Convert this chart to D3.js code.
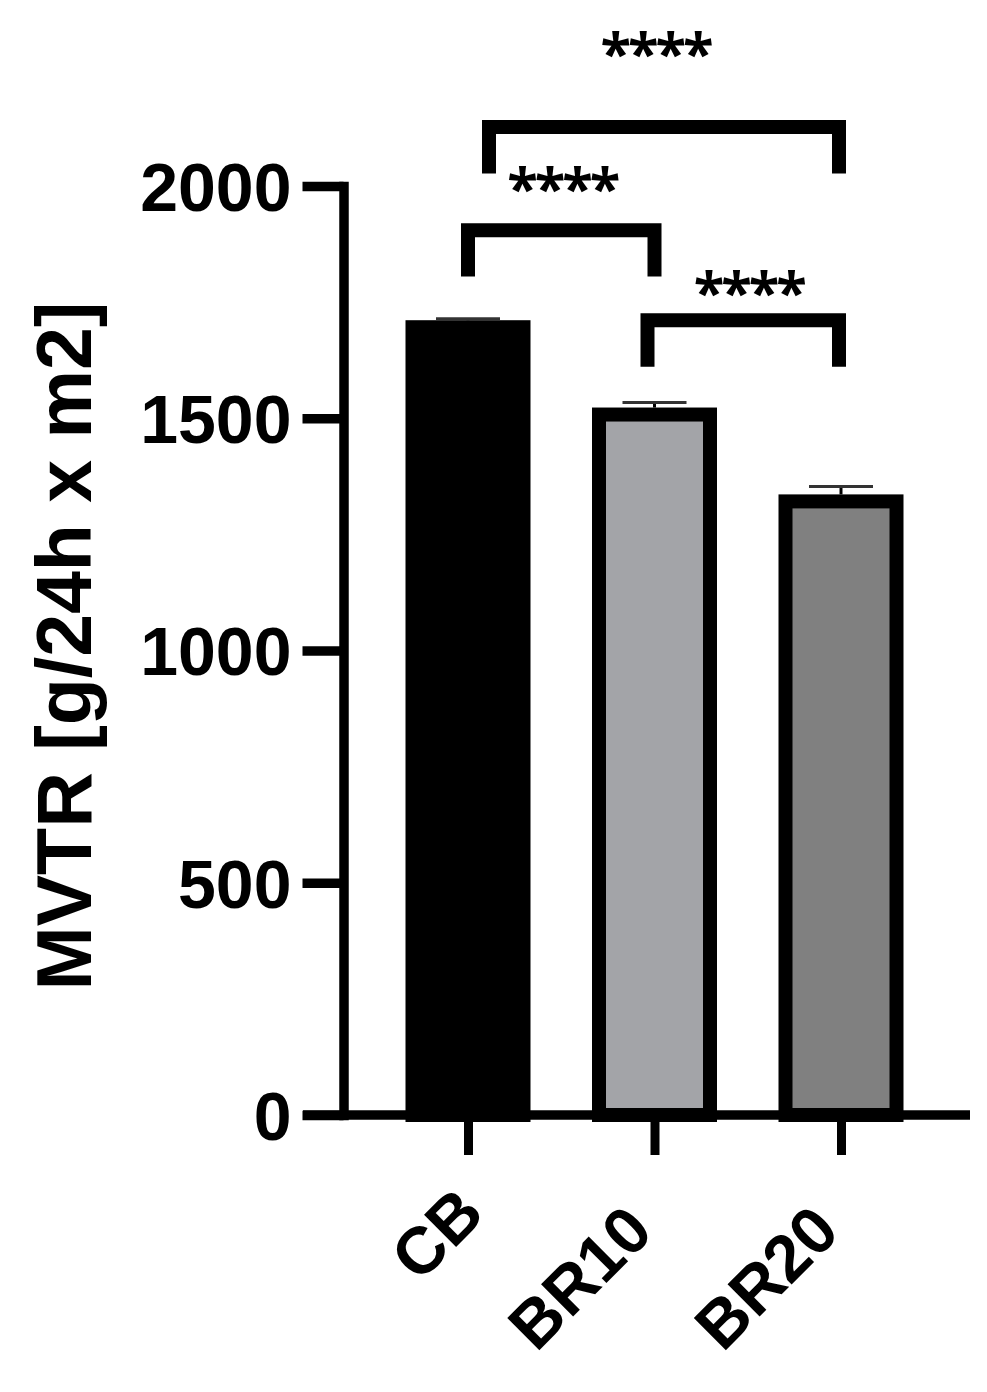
<!DOCTYPE html>
<html>
<head>
<meta charset="utf-8">
<script src="https://cdn.jsdelivr.net/npm/d3@7"></script>
<style>
  body { margin: 0; background: #fff; }
  svg { display: block; font-family: "Liberation Sans", Arial, sans-serif; }
</style>
</head>
<body>
<div id="container"></div>
<script>
// data
const categories = ['CB', 'BR10', 'BR20'];
const means = [1696, 1508, 1321];
const sds = [18, 26, 32];
const yTicks = [0, 500, 1000, 1500, 2000];

// significance brackets (level = y value of the bracket bar)
const compFrom = ['CB', 'CB', 'BR10'];
const compTo = ['BR20', 'BR10', 'BR20'];
const compLevel = [2127, 1905, 1711];
const compText = ['****', '****', '****'];
const compTextLevel = [2303, 2012, 1789];

// svg dimensions
const width = 987;
const height = 1392;
const lineW = 9.5;

const svg = d3.select('#container')
              .append('svg')
              .attr('width', width)
              .attr('height', height);

// scales
const yScale = d3.scaleLinear()
                 .domain([0, 2000])
                 .range([1115, 186]);

const xScale = d3.scalePoint()
                 .domain(categories)
                 .range([374.75, 934.25])
                 .padding(0.5);

const fill = d3.scaleOrdinal()
               .domain(categories)
               .range(['#000000', '#a3a4a8', '#808080']);

const barW = 111;
const barStroke = 14;

// bars
svg.selectAll('rect.bar')
   .data(categories)
   .enter()
   .append('rect')
   .attr('class', 'bar')
   .attr('x', d => xScale(d) - barW / 2)
   .attr('y', (d, i) => yScale(means[i]))
   .attr('width', barW)
   .attr('height', (d, i) => yScale(0) - yScale(means[i]))
   .attr('fill', d => fill(d))
   .attr('stroke', '#000')
   .attr('stroke-width', barStroke);

// error bars (upper only)
const err = svg.append('g');
categories.forEach((c, i) => {
    const cx = xScale(c);
    const top = yScale(means[i] + sds[i]);
    err.append('line')
       .attr('x1', cx).attr('x2', cx)
       .attr('y1', top).attr('y2', yScale(means[i]) - barStroke / 2)
       .attr('stroke', '#000').attr('stroke-width', 3);
    err.append('line')
       .attr('x1', cx - 32).attr('x2', cx + 32)
       .attr('y1', top).attr('y2', top)
       .attr('stroke', '#333').attr('stroke-width', 3);
});

// y axis
const yAxis = d3.axisLeft(yScale)
                .tickValues(yTicks)
                .tickFormat(d3.format('d'))
                .tickSize(41)
                .tickSizeOuter(0)
                .tickPadding(11);

const gy = svg.append('g')
              .attr('transform', 'translate(343.5,0)')
              .call(yAxis);

gy.select('.domain')
  .attr('stroke-width', lineW)
  .attr('stroke-linecap', 'square');
gy.selectAll('.tick line').attr('stroke-width', lineW);
gy.selectAll('.tick text')
  .attr('font-family', '"Liberation Sans", Arial, sans-serif')
  .attr('font-size', 68)
  .attr('font-weight', 'bold')
  .attr('fill', '#000')
  .attr('dy', '0.36em');

// x axis
const xAxis = d3.axisBottom(xScale)
                .tickSize(40)
                .tickSizeOuter(0)
                .tickFormat('');

const gx = svg.append('g')
              .attr('transform', `translate(0,${yScale(0)})`)
              .call(xAxis);

gx.select('.domain').remove();
gx.selectAll('.tick line').attr('stroke-width', 9);

gx.append('line')
  .attr('x1', 303).attr('x2', 970)
  .attr('y1', 0).attr('y2', 0)
  .attr('stroke', '#000')
  .attr('stroke-width', lineW);

// rotated category labels (short label sits a bit further along its baseline)
const labelNudge = [25, 0, 0];
svg.append('g')
   .selectAll('text')
   .data(categories)
   .enter()
   .append('text')
   .attr('transform', (d, i) => `translate(${xScale(d) + 1},1234) rotate(-45) translate(${labelNudge[i]},0)`)
   .attr('text-anchor', 'end')
   .attr('font-size', 66)
   .attr('font-weight', 'bold')
   .text(d => d);

// y axis title
svg.append('text')
   .attr('transform', 'translate(91,646) rotate(-90)')
   .attr('text-anchor', 'middle')
   .attr('font-size', 77)
   .attr('font-weight', 'bold')
   .text('MVTR [g/24h x m2]');

// significance brackets
const legShift = [[21, -2], [0, 0], [-7, -2]];
const legDrop = 100;
const brW = 14;

const br = svg.append('g');
compFrom.forEach((f, i) => {
    const x1 = xScale(f) + legShift[i][0];
    const x2 = xScale(compTo[i]) + legShift[i][1];
    const yb = yScale(compLevel[i]);
    const yl = yScale(compLevel[i] - legDrop);
    br.append('path')
      .attr('d', `M${x1},${yl}V${yb}H${x2}V${yl}`)
      .attr('fill', 'none')
      .attr('stroke', '#000')
      .attr('stroke-width', brW)
      .attr('stroke-linejoin', 'miter');
    br.append('text')
      .attr('x', (xScale(f) + xScale(compTo[i])) / 2 + 1)
      .attr('y', yScale(compTextLevel[i]))
      .attr('dy', '0.5em')
      .attr('text-anchor', 'middle')
      .attr('font-family', '"Open Sans", "Noto Sans", sans-serif')
      .attr('font-size', 56)
      .attr('font-weight', 'bold')
      .attr('letter-spacing', -3)
      .text(compText[i]);
});
</script>
</body>
</html>
